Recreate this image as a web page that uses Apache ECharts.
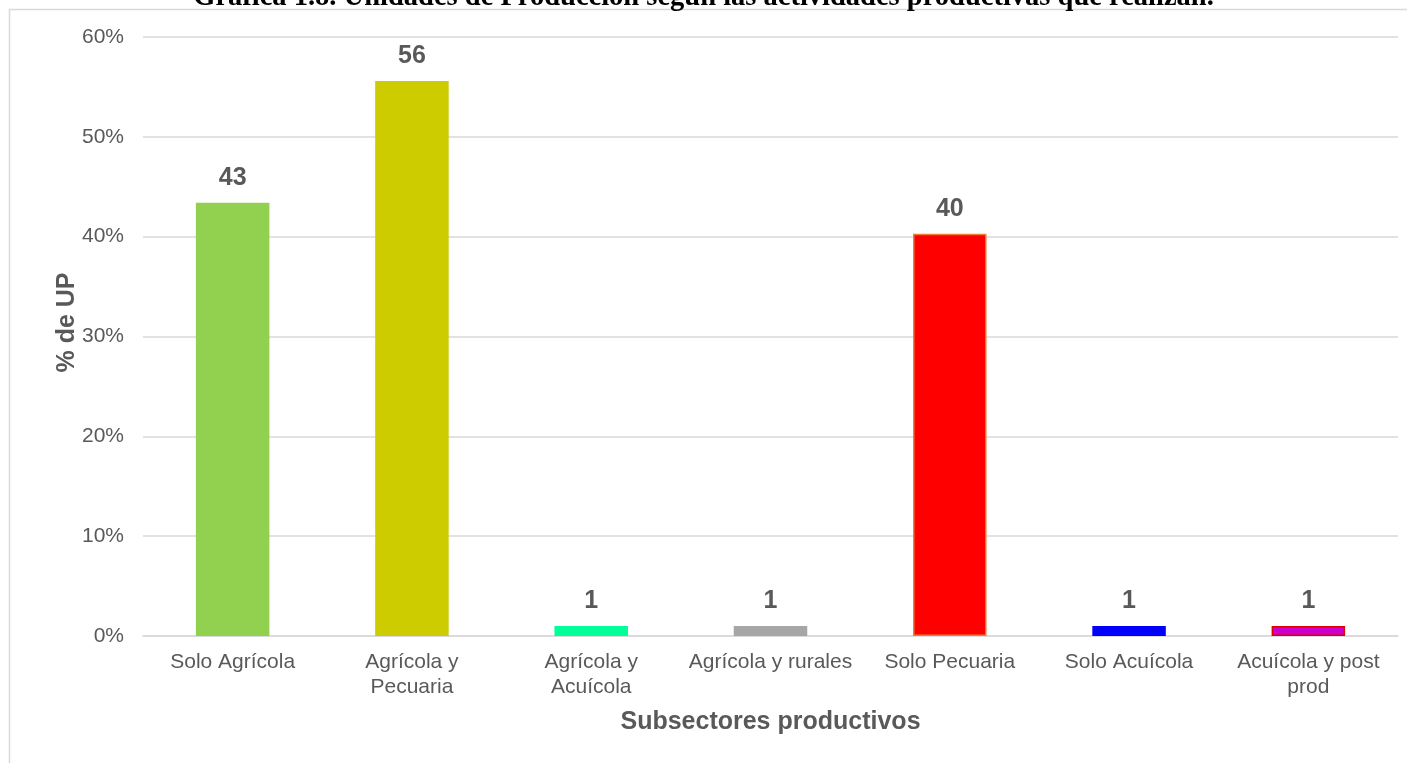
<!DOCTYPE html>
<html>
<head>
<meta charset="utf-8">
<script src="https://cdn.jsdelivr.net/npm/echarts@6/dist/echarts.min.js"></script>
<style>
  html, body { margin: 0; padding: 0; background: #fff; }
  #chart { width: 1407px; height: 763px; }
</style>
</head>
<body>
<div id="chart"></div>
<script>
const categories = [
  'Solo Agrícola',
  'Agrícola y\nPecuaria',
  'Agrícola y\nAcuícola',
  'Agrícola y rurales',
  'Solo Pecuaria',
  'Solo Acuícola',
  'Acuícola y post\nprod',
]
const values = [43.4, 55.6, 1.0, 1.0, 40.3, 1.0, 1.0]
const barColors = ['#92D050', '#CCCC00', '#00FF99', '#A6A6A6', '#FF0000', '#0000FF', '#CC00CC']
const barBorders = [null, null, null, null, '#ED7D31', null, '#E00000']

const chart = echarts.init(document.getElementById('chart'))

const textGrey = '#595959'
const font = '"Liberation Sans", Arial, sans-serif'

chart.setOption({
  animation: false,
  textStyle: { fontFamily: font },
  graphic: [
    {
      type: 'rect',
      silent: true,
      shape: { x: 9.5, y: 9.5, width: 1500, height: 900 },
      style: { fill: 'none', stroke: '#d9d9d9', lineWidth: 1.5 },
    },
    {
      type: 'text',
      left: 'center',
      top: -17,
      style: {
        text: 'Gráfica 1.8. Unidades de Producción según las actividades productivas que realizan.',
        font: 'bold 28.5px "Liberation Serif", "Times New Roman", serif',
        fill: '#000',
      },
    },
  ],
  grid: { left: 143, right: 9, top: 37, bottom: 127 },
  xAxis: {
    type: 'category',
    data: categories,
    name: 'Subsectores productivos',
    nameLocation: 'middle',
    nameGap: 74,
    nameTextStyle: { fontSize: 25, fontWeight: 'bold', color: textGrey },
    axisLine: { lineStyle: { color: '#d9d9d9', width: 1.5 } },
    axisTick: { show: false },
    axisLabel: { interval: 0, fontSize: 21, color: textGrey, lineHeight: 25, margin: 14 },
  },
  yAxis: {
    type: 'value',
    min: 0,
    max: 60,
    interval: 10,
    name: '% de UP',
    nameLocation: 'middle',
    nameGap: 63,
    nameMoveOverlap: false,
    nameTextStyle: { fontSize: 25, fontWeight: 'bold', color: textGrey, padding: [0, 0, 0, 28] },
    axisLabel: { formatter: '{value}%', fontSize: 21, color: textGrey, margin: 19 },
    splitLine: { lineStyle: { color: '#d9d9d9', width: 1.5 } },
    axisLine: { show: false },
  },
  series: [
    {
      type: 'bar',
      barWidth: '41%',
      data: values.map((v, i) => ({
        value: v,
        itemStyle: {
          color: barColors[i],
          borderColor: barBorders[i] || barColors[i],
          borderWidth: barBorders[i] ? 1.5 : 0,
        },
      })),
      label: {
        show: true,
        position: 'top',
        distance: 12,
        formatter: (p) => Math.round(p.value),
        fontSize: 25,
        fontWeight: 'bold',
        color: textGrey,
      },
    },
  ],
})
</script>
</body>
</html>
